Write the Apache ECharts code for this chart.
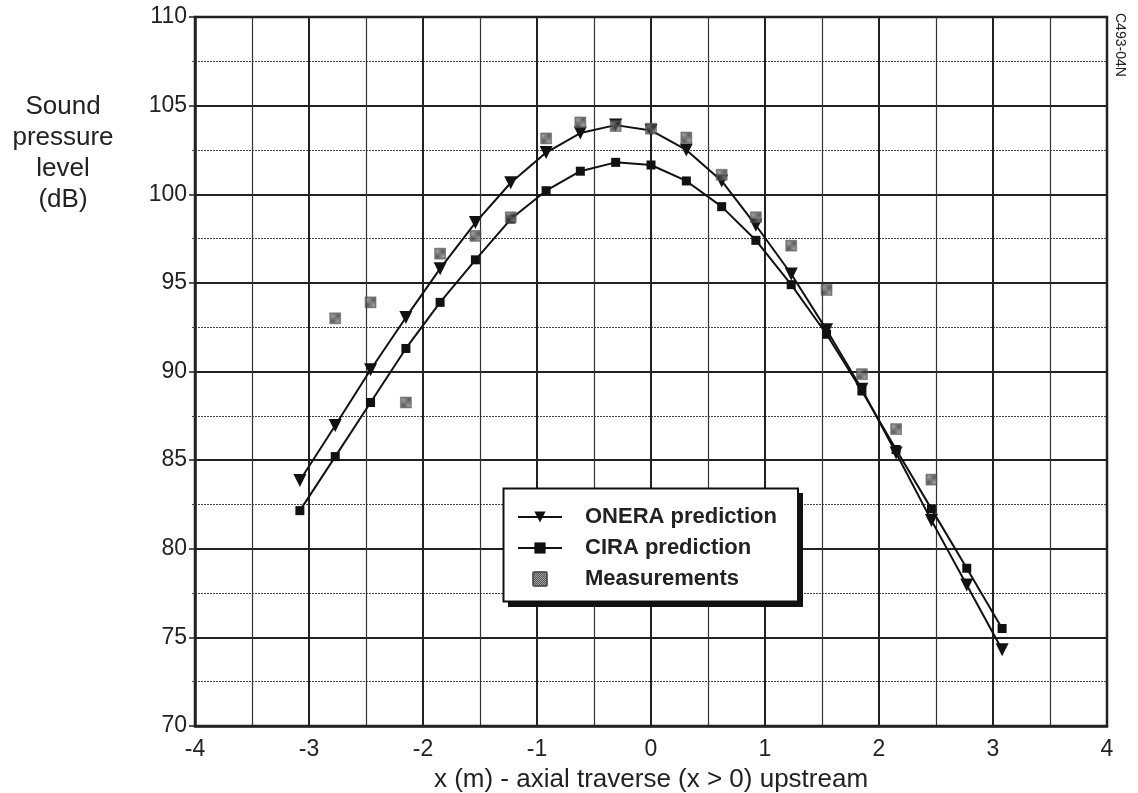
<!DOCTYPE html>
<html>
<head>
<meta charset="utf-8">
<script src="https://cdn.jsdelivr.net/npm/echarts@6/dist/echarts.min.js"></script>
<style>
  html, body { margin: 0; padding: 0; background: #fff; }
  #chart { width: 1138px; height: 793px; }
</style>
</head>
<body>
<div id="chart"></div>
<script>
// x positions of the predictions (m)
const xPos = [-3.08, -2.77, -2.46, -2.15, -1.85, -1.54, -1.23, -0.92, -0.62, -0.31, 0,
  0.31, 0.62, 0.92, 1.23, 1.54, 1.85, 2.15, 2.46, 2.77, 3.08];
// ONERA prediction (dB)
const onera = [83.85, 86.95, 90.1, 93.05, 95.8, 98.4, 100.65, 102.35, 103.45, 103.9, 103.6,
  102.5, 100.75, 98.25, 95.5, 92.35, 89.0, 85.4, 81.6, 77.95, 74.3];
// CIRA prediction (dB)
const cira = [82.15, 85.2, 88.25, 91.3, 93.9, 96.3, 98.6, 100.2, 101.3, 101.8, 101.65,
  100.75, 99.3, 97.4, 94.9, 92.1, 88.9, 85.6, 82.25, 78.9, 75.5];
// measurements
const measX = [-2.77, -2.46, -2.15, -1.85, -1.54, -1.23, -0.92, -0.62, -0.31, 0,
  0.31, 0.62, 0.92, 1.23, 1.54, 1.85, 2.15, 2.46];
const meas = [93.0, 93.9, 88.25, 96.65, 97.65, 98.7, 103.15, 104.05, 103.85, 103.7,
  103.2, 101.1, 98.7, 97.1, 94.6, 89.85, 86.75, 83.9];

const font = "'Liberation Sans', Arial, sans-serif";

// hatched gray fill for the measured points
function hatch() {
  const c = document.createElement('canvas');
  c.width = 4; c.height = 4;
  const g = c.getContext('2d');
  g.fillStyle = '#8c8c8c';
  g.fillRect(0, 0, 4, 4);
  g.fillStyle = '#2a2a2a';
  for (let i = 0; i < 4; i++) g.fillRect(i, (i + 1) % 4, 1, 1);
  for (let i = 0; i < 4; i++) g.fillRect(i, (i + 3) % 4, 1, 1);
  return { image: c, repeat: 'repeat' };
}

const zip = (xs, ys) => xs.map((x, i) => [x, ys[i]]);

const chart = echarts.init(document.getElementById('chart'));
chart.setOption({
  backgroundColor: '#fff',
  animation: false,
  textStyle: { fontFamily: font },
  grid: {
    left: 195, right: 31, top: 17, bottom: 67, outerBoundsMode: 'none',
    show: true, borderColor: '#222', borderWidth: 2.5, backgroundColor: 'transparent'
  },
  xAxis: {
    type: 'value', min: -4, max: 4, interval: 1,
    name: 'x (m) - axial traverse (x > 0) upstream',
    nameLocation: 'middle', nameGap: 41,
    nameTextStyle: { fontSize: 26, color: '#222', fontFamily: font },
    axisLine: { show: true, onZero: false, lineStyle: { color: '#222', width: 2.5 } },
    axisTick: { show: false },
    axisLabel: { fontSize: 23, color: '#222', margin: 12, fontFamily: font },
    splitLine: { show: true, lineStyle: { color: '#222', width: 2 } },
    minorTick: { show: false, splitNumber: 2 },
    minorSplitLine: { show: true, lineStyle: { color: '#333', width: 1.2 } }
  },
  yAxis: {
    type: 'value', min: 70, max: 110, interval: 5,
    axisLine: { show: true, onZero: false, lineStyle: { color: '#222', width: 2.5 } },
    axisTick: { show: true, length: 6, lineStyle: { color: '#222', width: 1.5 } },
    axisLabel: { fontSize: 23, color: '#222', margin: 8, fontFamily: font },
    splitLine: { show: true, lineStyle: { color: '#222', width: 2 } },
    minorTick: { show: true, splitNumber: 2, length: 3, lineStyle: { color: '#444' } },
    minorSplitLine: { show: true, lineStyle: { color: '#444', width: 1, type: [2, 1] } }
  },
  legend: {
    orient: 'vertical', left: 517, top: 506, padding: 0, z: 200,
    itemWidth: 44, itemHeight: 14, itemGap: 9,
    textStyle: { fontSize: 22, fontWeight: 'bold', color: '#222', fontFamily: font,
      lineHeight: 22, padding: [0, 0, 0, 18] },
    data: [
      'ONERA prediction',
      'CIRA prediction',
      { name: 'Measurements', icon: 'path://M1,0 L10,0 Q11,0 11,1 L11,10 Q11,11 10,11 L1,11 Q0,11 0,10 L0,1 Q0,0 1,0 Z' }
    ]
  },
  graphic: [
    { type: 'rect', z: 90, shape: { x: 508, y: 493, width: 295, height: 114 },
      style: { fill: '#111' } },
    { type: 'rect', z: 91, shape: { x: 503.5, y: 488.5, width: 294.5, height: 113 },
      style: { fill: '#fff', stroke: '#111', lineWidth: 2 } },
    { type: 'text', x: 63, y: 91,
      style: { text: 'Sound\npressure\nlevel\n(dB)', fill: '#222', font: '26px ' + font,
        align: 'center', lineHeight: 31 } },
    { type: 'text', x: 1127, y: 13, rotation: -Math.PI / 2,
      style: { text: 'C493-04N', fill: '#222', font: '14px ' + font } }
  ],
  series: [
    {
      name: 'ONERA prediction', type: 'line', data: zip(xPos, onera), z: 3,
      symbol: 'triangle', symbolRotate: 180, symbolSize: 13,
      lineStyle: { color: '#111', width: 2 }, itemStyle: { color: '#111' }
    },
    {
      name: 'CIRA prediction', type: 'line', data: zip(xPos, cira), z: 3,
      symbol: 'rect', symbolSize: 9,
      lineStyle: { color: '#111', width: 2 }, itemStyle: { color: '#111' }
    },
    {
      name: 'Measurements', type: 'scatter', data: zip(measX, meas), z: 4,
      symbol: 'rect', symbolSize: 11,
      itemStyle: { color: hatch(), borderColor: '#444', borderWidth: 0.5 }
    }
  ]
});
</script>
</body>
</html>
